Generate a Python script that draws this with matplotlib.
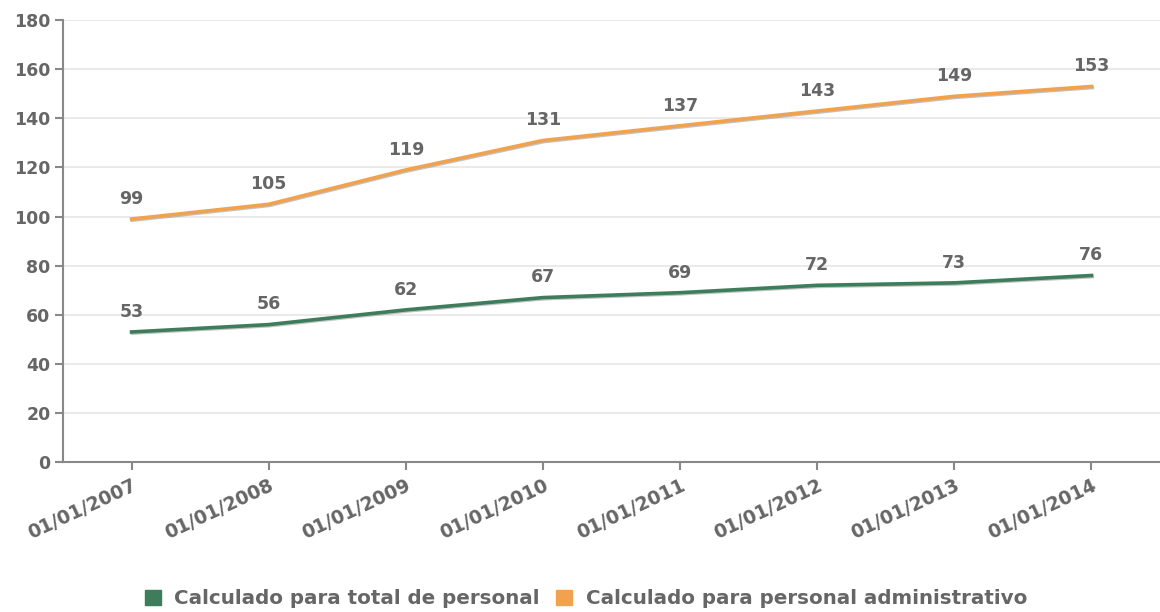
import numpy as np
import matplotlib.pyplot as plt
import matplotlib.patheffects as pe
from matplotlib.patches import Patch

# data
fechas = ['01/01/2007', '01/01/2008', '01/01/2009', '01/01/2010',
          '01/01/2011', '01/01/2012', '01/01/2013', '01/01/2014']
total_personal = [53, 56, 62, 67, 69, 72, 73, 76]
personal_admin = [99, 105, 119, 131, 137, 143, 149, 153]

verde = '#3d7d5c'
naranja = '#f0a24e'
gris_texto = '#666666'
gris_eje = '#888888'

fig = plt.figure(figsize=(11.6, 6.12), dpi=100)
ax = fig.add_axes([0.0543, 0.245, 0.9457, 0.722])

x = np.arange(len(fechas))
sombra = [pe.SimpleLineShadow(offset=(0.6, -0.8), shadow_color='#999999', alpha=0.6), pe.Normal()]
ax.plot(x, personal_admin, color=naranja, lw=2.6, path_effects=sombra, zorder=3)
ax.plot(x, total_personal, color=verde, lw=2.6, path_effects=sombra, zorder=3)

for xi, v in zip(x, personal_admin):
    ax.annotate(str(v), (xi, v), xytext=(0, 8), textcoords='offset points',
                ha='center', va='bottom', fontsize=12.5, fontweight='bold', color=gris_texto)
for xi, v in zip(x, total_personal):
    ax.annotate(str(v), (xi, v), xytext=(0, 8), textcoords='offset points',
                ha='center', va='bottom', fontsize=12.5, fontweight='bold', color=gris_texto)

ax.set_xlim(-0.5, 7.5)
ax.set_ylim(0, 180)
ax.set_yticks(range(0, 181, 20))
ax.set_xticks(x)
ax.set_xticklabels(fechas, rotation=25, ha='right', rotation_mode='anchor')

ax.grid(axis='y', color='#e6e6e6', lw=1.2)
ax.set_axisbelow(True)
for s in ['top', 'right']:
    ax.spines[s].set_visible(False)
for s in ['left', 'bottom']:
    ax.spines[s].set_color(gris_eje)
    ax.spines[s].set_linewidth(1.5)
ax.tick_params(axis='both', colors=gris_eje, width=1.5, length=6)
ax.tick_params(axis='y', labelsize=12.5, labelcolor=gris_texto, pad=3)
ax.tick_params(axis='x', labelsize=13.5, labelcolor=gris_texto, pad=4)
for lab in ax.get_xticklabels() + ax.get_yticklabels():
    lab.set_fontweight('bold')

handles = [Patch(color=verde, label='Calculado para total de personal'),
           Patch(color=naranja, label='Calculado para personal administrativo')]
fig.legend(handles=handles, loc='center', bbox_to_anchor=(0.505, 0.022), ncol=2,
           frameon=False, handlelength=0.8, handleheight=0.8,
           handletextpad=0.7, columnspacing=0.8, labelcolor=gris_texto,
           prop={'weight': 'bold', 'size': 14.3})

fig.savefig('out.png', dpi=100)
